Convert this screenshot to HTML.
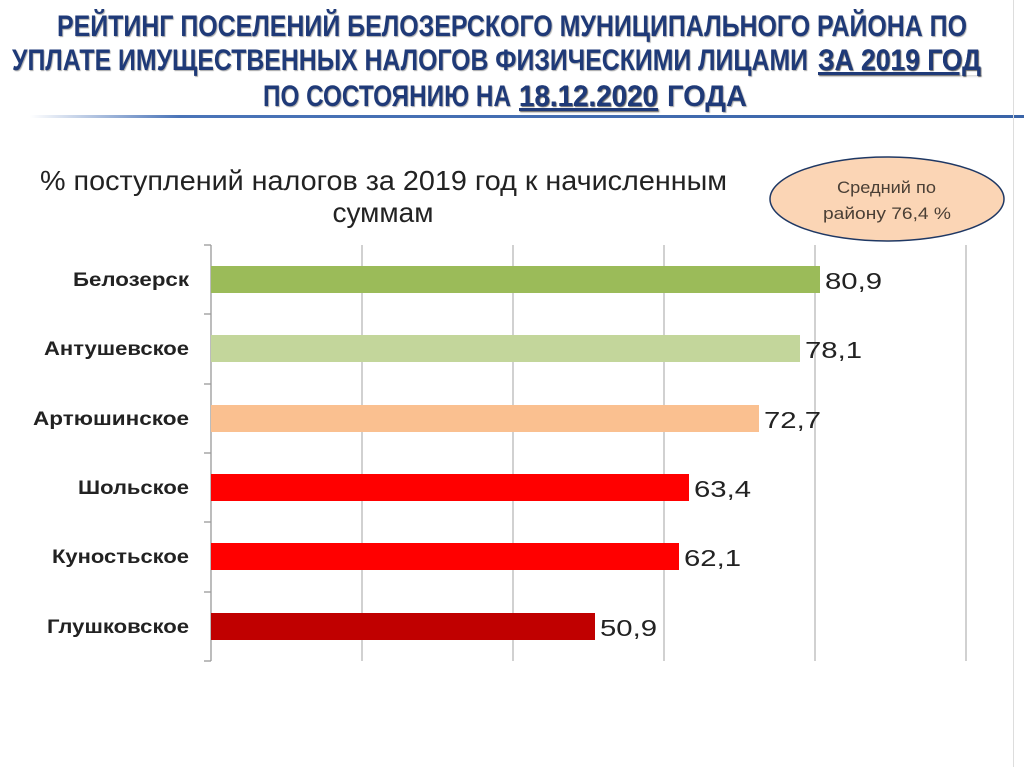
<!DOCTYPE html>
<html><head><meta charset="utf-8"><style>
html,body{margin:0;padding:0;background:#fff;}
body{width:1024px;height:767px;position:relative;overflow:hidden;font-family:"Liberation Sans",sans-serif;}
</style></head><body>
<div style="position:absolute;left:30px;top:115px;width:994px;height:3px;background:linear-gradient(to right,#fff,#4a74b8 15%,#3a64a8);"></div>
<div style="position:absolute;left:1013px;top:0;width:1px;height:767px;background:#ddd"></div>
<svg width="1024" height="767" style="position:absolute;left:0;top:0" font-family="Liberation Sans, sans-serif">
<g font-weight="bold" font-size="30" fill="#1F3A78" style="text-shadow:1px 1px 1px rgba(0,0,0,0.35)">
<text x="57" y="36" textLength="910" lengthAdjust="spacingAndGlyphs">РЕЙТИНГ ПОСЕЛЕНИЙ БЕЛОЗЕРСКОГО МУНИЦИПАЛЬНОГО РАЙОНА ПО</text>
<text x="12" y="70" textLength="796" lengthAdjust="spacingAndGlyphs">УПЛАТЕ ИМУЩЕСТВЕННЫХ НАЛОГОВ ФИЗИЧЕСКИМИ ЛИЦАМИ</text>
<text x="818" y="70" textLength="163" lengthAdjust="spacingAndGlyphs" text-decoration="underline">ЗА 2019 ГОД</text>
<text x="263" y="106" textLength="248" lengthAdjust="spacingAndGlyphs">ПО СОСТОЯНИЮ НА</text>
<text x="519" y="106" textLength="139" lengthAdjust="spacingAndGlyphs" text-decoration="underline">18.12.2020</text>
<text x="667" y="106" textLength="80" lengthAdjust="spacingAndGlyphs">ГОДА</text>
</g>
<text x="40" y="190" font-size="28" fill="#222" textLength="687" lengthAdjust="spacingAndGlyphs">% поступлений налогов за 2019 год к начисленным</text>
<text x="383" y="222" font-size="28" text-anchor="middle" fill="#222">суммам</text>
<ellipse cx="887" cy="199" rx="117" ry="42" fill="#FBD5B5" stroke="#1F3864" stroke-width="1.5"/>
<text x="837" y="193" font-size="17" fill="#4a3f35" textLength="99" lengthAdjust="spacingAndGlyphs">Средний по</text>
<text x="823" y="219" font-size="17" fill="#4a3f35" textLength="128" lengthAdjust="spacingAndGlyphs">району  76,4 %</text>
<g stroke="#b8b8b8" stroke-width="1.3">
<line x1="362" y1="245" x2="362" y2="661"/><line x1="513" y1="245" x2="513" y2="661"/>
<line x1="664" y1="245" x2="664" y2="661"/><line x1="815" y1="245" x2="815" y2="661"/>
<line x1="966" y1="245" x2="966" y2="661"/>
</g>
<g stroke="#999" stroke-width="1.3">
<line x1="211" y1="245" x2="211" y2="661"/>
<line x1="204" y1="245" x2="211" y2="245"/><line x1="204" y1="314" x2="211" y2="314"/>
<line x1="204" y1="384" x2="211" y2="384"/><line x1="204" y1="453" x2="211" y2="453"/>
<line x1="204" y1="522" x2="211" y2="522"/><line x1="204" y1="592" x2="211" y2="592"/>
<line x1="204" y1="661" x2="211" y2="661"/>
</g>
<rect x="211" y="266" width="609" height="27" fill="#9BBB59"/>
<rect x="211" y="335" width="589" height="27" fill="#C3D69B"/>
<rect x="211" y="405" width="548" height="27" fill="#FAC090"/>
<rect x="211" y="474" width="478" height="27" fill="#FF0000"/>
<rect x="211" y="543" width="468" height="27" fill="#FF0000"/>
<rect x="211" y="613" width="384" height="27" fill="#C00000"/>
<g font-size="23" fill="#222">
<text x="825" y="289" textLength="57" lengthAdjust="spacingAndGlyphs">80,9</text>
<text x="805" y="358" textLength="57" lengthAdjust="spacingAndGlyphs">78,1</text>
<text x="764" y="428" textLength="57" lengthAdjust="spacingAndGlyphs">72,7</text>
<text x="694" y="497" textLength="57" lengthAdjust="spacingAndGlyphs">63,4</text>
<text x="684" y="566" textLength="57" lengthAdjust="spacingAndGlyphs">62,1</text>
<text x="600" y="636" textLength="57" lengthAdjust="spacingAndGlyphs">50,9</text>
</g>
<g font-size="19" fill="#222" font-weight="bold">
<text x="73" y="286" textLength="116" lengthAdjust="spacingAndGlyphs">Белозерск</text>
<text x="44" y="355" textLength="145" lengthAdjust="spacingAndGlyphs">Антушевское</text>
<text x="33" y="425" textLength="156" lengthAdjust="spacingAndGlyphs">Артюшинское</text>
<text x="78" y="494" textLength="111" lengthAdjust="spacingAndGlyphs">Шольское</text>
<text x="52" y="563" textLength="137" lengthAdjust="spacingAndGlyphs">Куностьское</text>
<text x="47" y="633" textLength="142" lengthAdjust="spacingAndGlyphs">Глушковское</text>
</g>
</svg>
</body></html>
